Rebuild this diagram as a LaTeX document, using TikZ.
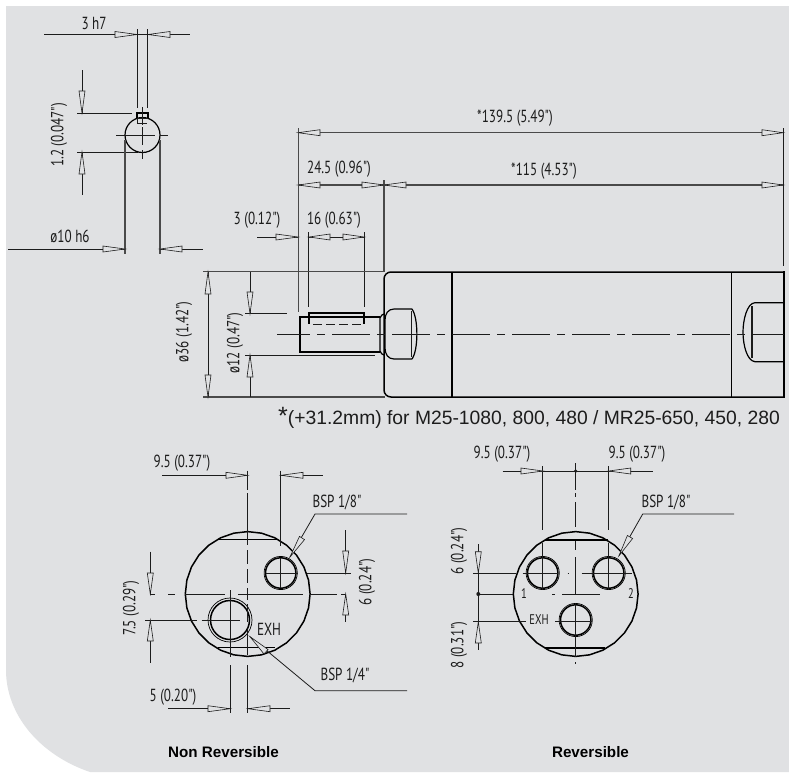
\documentclass[tikz,border=0pt]{standalone}
\usepackage{fontspec}
\usetikzlibrary{calc}
\setmainfont{Liberation Sans}
\newfontfamily\cf[FakeStretch=0.75]{PT Sans}
\definecolor{bgc}{HTML}{E0E1E3}
\definecolor{ink}{HTML}{1C1C1C}
\definecolor{ink2}{HTML}{4A4A4A}
\tikzset{
  ln/.style={draw=ink,line width=0.8pt},
  gln/.style={draw=ink2,line width=1.2pt},
  ol/.style={draw=black,line width=1.5pt},
  md/.style={draw=black,line width=1.2pt},
  arrowtri/.style={draw=ink,fill=bgc,line width=0.6pt,line join=miter},
  dimtxt/.style={font=\cf\fontsize{17.5}{17.5}\selectfont,inner sep=0pt,text=ink},
  smalltxt/.style={font=\cf\fontsize{14}{14}\selectfont,inner sep=0pt,text=ink},
  rot/.style={rotate=90}
}
\newcommand\arr[2]{\draw[arrowtri] (#1) -- ($(#2)!3pt!90:(#1)$) -- ($(#2)!3pt!-90:(#1)$) -- cycle;}
\newcommand\hole[4]{\draw[line width=1.5pt,draw=black] (#1,#2) circle (#3);\draw[line width=0.7pt,draw=black] (#1,#2) circle (#4);}
\newcommand\facet[2]{\draw[ol,line join=round] plot[samples=29,domain=0:360] ({#1+62.4*cos(\x)},{#2+62.4*sin(\x)}) -- cycle;}
\begin{document}
\begin{tikzpicture}[x=1pt,y=-1pt]
\useasboundingbox (0,0) rectangle (789,772);
\fill[white] (0,0) rectangle (789,772);
\fill[bgc] (6,6) -- (789,6) -- (789,772) -- (90,772) .. controls (40,755) and (6,715) .. (6,670) -- cycle;

%% --- shaft section, top left
\draw[ln] (44,34.5) -- (190,34.5);
\draw[ln] (137.5,29) -- (137.5,108) (147.5,29) -- (147.5,108);
\arr{137,34.5}{115,34.5}
\arr{148,34.5}{170,34.5}
\node[dimtxt] (t3h7) at (94,23) {3 h7};
\draw[ln] (82,70) -- (82,113) (82,152) -- (82,195);
\draw[ln] (77,113) -- (132,113) (77,152) -- (138,152);
\arr{82,113}{82,91}
\arr{82,152}{82,174}
\node[dimtxt,rot] (t12) at (59,135) {1.2 (0.047")};
\draw[md] (142.5,135) circle (17.5);
\draw[md] (137,118) -- (137,113) -- (148,113) -- (148,118);
\draw[ln] (137,118) -- (148,118) (137,118) -- (137,123) -- (147,123);
\draw[ln] (142.5,107) -- (142.5,125) (142.5,127) -- (142.5,145) (142.5,150) -- (142.5,159);
\draw[ln] (116,135) -- (155,135) (160,135) -- (168,135);
\draw[gln] (125,140) -- (125,254) (160,140) -- (160,254);
\draw[ln] (8,249) -- (125,249) (160,249) -- (203,249);
\arr{125,249}{103,249}
\arr{160,249}{182,249}
\node[dimtxt] (t10) at (70,236) {ø10 h6};

%% --- cylinder side view
\draw[gln] (298.3,128) -- (298.3,312);
\draw[gln] (384,180) -- (384,272);
\draw[ln] (783.5,128) -- (783.5,266);
\draw[gln] (298,132.7) -- (783,132.7);
\draw[gln] (298,185) -- (783,185);
\arr{298,132.7}{320,132.7}
\arr{783,132.7}{762,132.7}
\arr{298,185}{320,185}
\arr{384,185}{362,185}
\arr{384,185}{406,185}
\arr{783,185}{762,185}
\node[dimtxt] (t139) at (515,118) {*139.5 (5.49")};
\node[dimtxt] (t245) at (339,169) {24.5 (0.96")};
\node[dimtxt] (t115) at (544,171) {*115 (4.53")};
\node[dimtxt] (t3) at (257,220) {3 (0.12")};
\node[dimtxt] (t16) at (334,220) {16 (0.63")};
\draw[ln] (257,237) -- (298,237);
\arr{298,237}{276,237}
\draw[ln] (308.7,232) -- (308.7,307) (364.3,232) -- (364.3,307);
\draw[ln] (309,237) -- (364,237);
\arr{309,237}{330,237}
\arr{364,237}{343,237}
\draw[gln] (203,271.8) -- (384,271.8) (203,397) -- (385,397);
\draw[ln] (208,272) -- (208,397);
\arr{208,272}{208,294}
\arr{208,397}{208,375}
\node[dimtxt,rot] (t36) at (184,332) {ø36 (1.42")};
\draw[ln] (250,272) -- (250,313) (250,355) -- (250,397);
\draw[ln] (245,313.7) -- (287,313.7) (245,355) -- (375,355);
\arr{250,313.7}{250,292}
\arr{250,355}{250,377}
\node[dimtxt,rot] (t12b) at (235,343) {ø12 (0.47")};
\draw[md] (299.5,317) -- (380,317) (299.5,352) -- (380,352);
\draw[line width=2pt,draw=black] (299.5,316) -- (299.5,353);
\draw[md] (309,323.5) -- (309,313) -- (364,313) -- (364,323.5);
\draw[ln,dash pattern=on 9pt off 4pt] (313,324) -- (361,324);
\draw[md,rounded corners=2pt] (384,314) -- (380,316) -- (380,353) -- (384,355);
\draw[ol,rounded corners=7pt] (784,272) -- (384,272) -- (384,397) -- (784,397);
\draw[ol] (783.8,271.2) -- (783.8,397.8);
\draw[md] (452,272) -- (452,397) (731.7,272) -- (731.7,397);
\draw[md] (412,309) -- (394,309) .. controls (388,309) and (385,314) .. (385,320) -- (385,348) .. controls (385,354) and (388,359) .. (394,359) -- (412,359);
\draw[md] (412,309) .. controls (418.5,318) and (418.5,350) .. (412,359);
\draw[ln] (411.7,311) -- (411.7,357);
\draw[md] (784,302.7) -- (755,302.7) .. controls (747,303) and (743,320) .. (743,332) .. controls (743,345) and (747,361) .. (755,361.7) -- (784,361.7);
\draw[ln,line width=1.2pt] (752,306) -- (752,358);
\draw[ln,dash pattern=on 38pt off 7pt on 8pt off 7pt,dash phase=5pt] (277,334) -- (784,334);

\node[font=\fontsize{19.3}{19.3}\selectfont,inner sep=0pt,text=ink,anchor=base west] (tnote) at (278,424) {{\fontsize{25}{25}\selectfont *}(+31.2mm) for M25-1080, 800, 480 / MR25-650, 450, 280};

%% --- non reversible end view
\facet{247.7}{594}
\draw[md] (218,539.7) -- (277,539.7) (218,647.7) -- (275,647.7);
\hole{280.7}{573}{15.2}{16.6}
\hole{230}{620}{19.5}{22}
\draw[ln] (247.7,470.7) -- (247.7,490) (247.7,493) -- (247.7,531);
\draw[ln,dash pattern=on 14pt off 5pt] (247.7,531) -- (247.7,600);
\draw[ln] (247.7,604) -- (247.7,622) (247.7,630) -- (247.7,655) (247.7,665) -- (247.7,713);
\draw[ln] (280.7,470.7) -- (280.7,546) (280.7,558) -- (280.7,588);
\draw[ln] (162,475.3) -- (247.7,475.3) (280.7,475.3) -- (323,475.3);
\arr{247.5,475.3}{226,475.3}
\arr{281,475.3}{303,475.3}
\node[dimtxt] (t95a) at (182,463) {9.5 (0.37")};
\coordinate (lead1a) at (407,514);
\coordinate (lead1b) at (315,514);
\coordinate (lead1c) at (290,557);
\draw[ln] (lead1a) -- (lead1b) -- (lead1c);
\arr{lead1c}{302,538}
\node[dimtxt] (tb18a) at (337,502) {BSP 1/8"};
\draw[ln] (265.7,573) -- (298,573) (307,573) -- (350.7,573);
\draw[ln] (345.7,530) -- (345.7,573) (345.7,594) -- (345.7,621.7);
\arr{345.7,573}{345.7,551}
\arr{345.7,594}{345.7,615}
\node[dimtxt,rot] (t6a) at (367,582) {6 (0.24")};
\draw[ln] (150,594) -- (155,594) (168,594) -- (175,594) (185,594) -- (225,594) (238,594) -- (303,594) (310,594) -- (337,594) (341,594) -- (345,594);
\draw[ln] (150.3,551.7) -- (150.3,594) (150.3,620) -- (150.3,662.7);
\draw[ln] (145,620) -- (197,620) (201.7,620) -- (240,620);
\arr{150.3,594}{150.3,573}
\arr{150.3,620}{150.3,641}
\node[dimtxt,rot] (t75) at (131,608) {7.5 (0.29")};
\draw[ln] (230,590) -- (230,657) (230,665) -- (230,713);
\node[dimtxt] (texh) at (269,629) {EXH};
\coordinate (lead2a) at (407,690.7);
\coordinate (lead2b) at (315,690.7);
\coordinate (lead2c) at (250,636.7);
\draw[ln] (lead2a) -- (lead2b) -- (lead2c);
\arr{lead2c}{266,651.7}
\node[dimtxt] (tb14) at (345,675.7) {BSP 1/4"};
\draw[ln] (168,708.7) -- (230,708.7) (248,708.7) -- (290,708.7);
\arr{230,708.7}{208,708.7}
\arr{248,708.7}{270,708.7}
\node[dimtxt] (t5) at (173,696.7) {5 (0.20")};

%% --- reversible end view
\facet{575.7}{594}
\draw[md] (545,540) -- (608,540) (545,648) -- (605,648);
\hole{542.7}{573}{15.2}{16.6}
\hole{608.7}{573}{15.2}{16.6}
\hole{575.7}{620}{15.2}{16.6}
\draw[ln] (575.7,463) -- (575.7,490) (575.7,493) -- (575.7,497) (575.7,502) -- (575.7,527) (575.7,541) -- (575.7,550) (575.7,557) -- (575.7,594) (575.7,603) -- (575.7,657) (575.7,662) -- (575.7,664);
\fill[ink] (575.7,471) circle (1.8);
\draw[ln] (502.7,471) -- (652.7,471);
\draw[ln] (542.7,466) -- (542.7,530) (542.7,543) -- (542.7,590);
\draw[ln] (608.7,466) -- (608.7,530) (608.7,543) -- (608.7,590);
\arr{543,471}{521,471}
\arr{608.7,471}{630.7,471}
\node[dimtxt] (t95b) at (502,454) {9.5 (0.37")};
\node[dimtxt] (t95c) at (637,454) {9.5 (0.37")};
\coordinate (lead3a) at (734,514);
\coordinate (lead3b) at (642.7,514);
\coordinate (lead3c) at (619,555.7);
\draw[ln] (lead3a) -- (lead3b) -- (lead3c);
\arr{lead3c}{630,537}
\node[dimtxt] (tb18b) at (666,502) {BSP 1/8"};
\draw[ln] (473,573) -- (516,573) (522.7,573) -- (558,573) (567.5,573) -- (569,573) (581.7,573) -- (631.7,573);
\draw[ln] (478,594) -- (513,594) (552,594) -- (555,594) (562,594) -- (600,594);
\fill[ink] (478.3,594) circle (2);
\draw[ln] (473,621.7) -- (526,621.7) (555,621.7) -- (592,621.7);
\draw[ln] (478.3,544) -- (478.3,650);
\arr{478.3,573}{478.3,551.7}
\arr{478.3,621.7}{478.3,643}
\node[smalltxt] (tone) at (524,594) {1};
\node[smalltxt] (ttwo) at (631,594) {2};
\node[smalltxt] (texhb) at (539,620) {EXH};
\node[dimtxt,rot] (t6b) at (459,551) {6 (0.24")};
\node[dimtxt,rot] (t8) at (459,645) {8 (0.31")};

%% --- captions
\node[font=\bfseries\fontsize{15.2}{15.2}\selectfont,inner sep=0pt,text=black] (tnr) at (223.5,752) {Non Reversible};
\node[font=\bfseries\fontsize{15.2}{15.2}\selectfont,inner sep=0pt,text=black] (trv) at (590.5,752) {Reversible};
\end{tikzpicture}
\end{document}
